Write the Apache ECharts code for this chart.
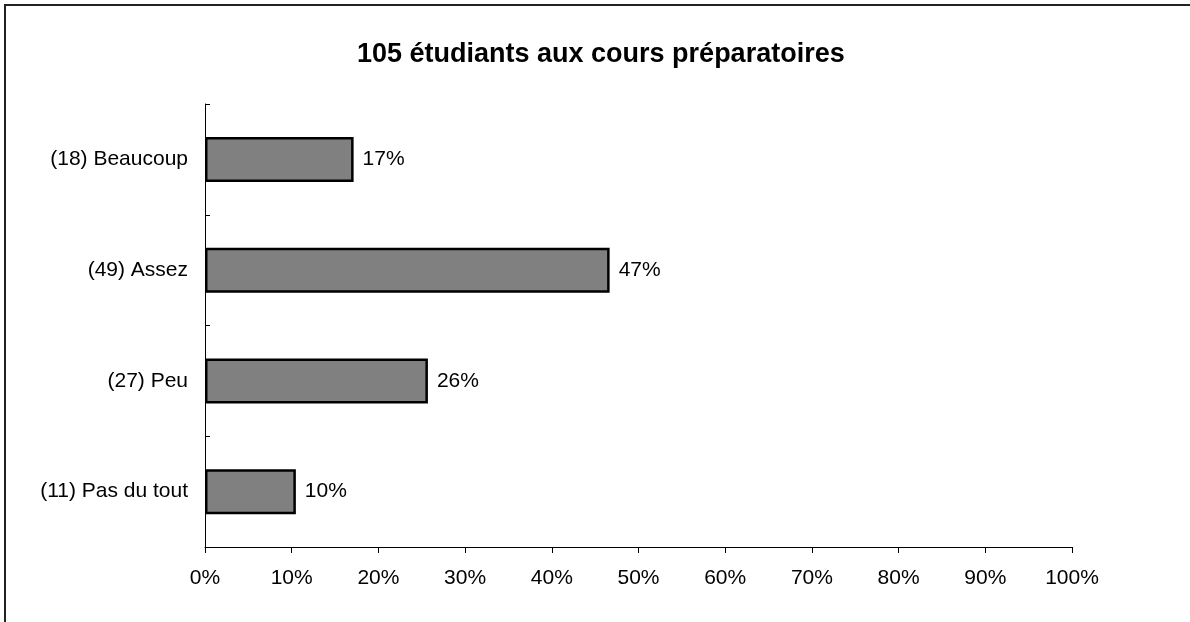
<!DOCTYPE html>
<html>
<head>
<meta charset="utf-8">
<script src="https://cdn.jsdelivr.net/npm/echarts@6/dist/echarts.min.js"></script>
<style>
    html, body { margin: 0; padding: 0; background: #fff; }
    #frame { position: absolute; left: 4px; top: 4px; width: 1186px; height: 618px;
             border-left: 2px solid #222; border-top: 2px solid #222; }
    #chart { position: absolute; left: 0; top: 0; width: 1190px; height: 622px; }
</style>
</head>
<body>
<div id="frame"></div>
<div id="chart"></div>
<script>
const titleText = "105 étudiants aux cours préparatoires";
const categories = ["(18) Beaucoup", "(49) Assez", "(27) Peu", "(11) Pas du tout"];
const percentValues = [17.14, 46.67, 25.71, 10.48];
const xTicks = [0, 10, 20, 30, 40, 50, 60, 70, 80, 90, 100];

const font = "Liberation Sans, Arial, sans-serif";

// 基于准备好的dom，初始化echarts实例
const chart = echarts.init(document.getElementById('chart'), null, { renderer: 'canvas' });

chart.setOption({
    animation: false,
    title: {
        text: titleText,
        left: 352,
        top: 36,
        textStyle: { fontFamily: font, fontSize: 27, fontWeight: 'bold', color: '#000' }
    },
    grid: { left: 205, right: 118, top: 104, bottom: 75 },
    xAxis: {
        type: 'value',
        min: xTicks[0],
        max: xTicks[xTicks.length - 1],
        interval: 10,
        axisLine: { show: true, lineStyle: { color: '#000', width: 1 } },
        axisTick: { show: true, length: 6, lineStyle: { color: '#000' } },
        splitLine: { show: false },
        axisLabel: {
            formatter: '{value}%', margin: 21,
            fontFamily: font, fontSize: 21, color: '#000'
        }
    },
    yAxis: {
        type: 'category',
        inverse: true,
        data: categories,
        axisLine: { show: true, lineStyle: { color: '#000', width: 1 } },
        axisTick: { show: true, inside: true, length: 5, lineStyle: { color: '#000' } },
        axisLabel: { margin: 17, fontFamily: font, fontSize: 21, color: '#000' }
    },
    series: [{
        type: 'bar',
        data: percentValues,
        barWidth: 45,
        itemStyle: { color: '#808080', borderColor: '#000', borderWidth: 2.5 },
        label: {
            show: true,
            position: 'right',
            distance: 9,
            formatter: function (p) { return Math.round(p.value) + '%'; },
            fontFamily: font, fontSize: 21, color: '#000'
        }
    }]
});
</script>
</body>
</html>
